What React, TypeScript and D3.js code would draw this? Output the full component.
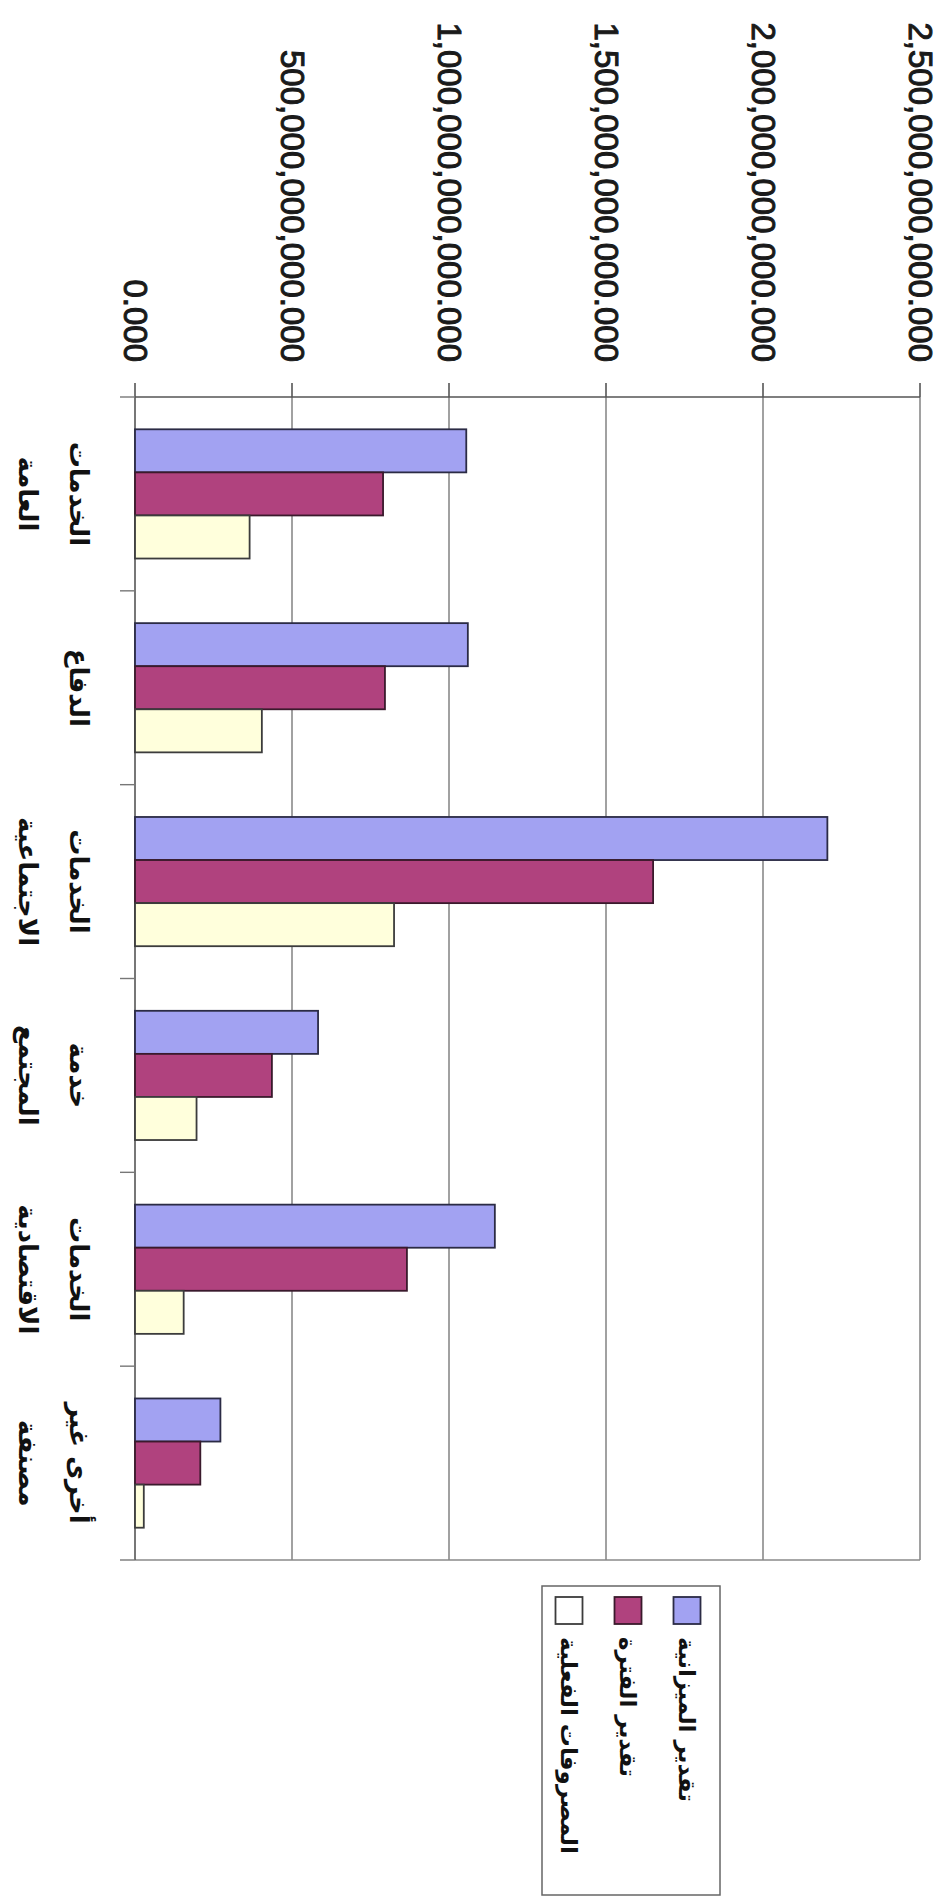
import React from 'react';
import * as d3 from 'd3';

// Category labels (each entry = lines of the label)
const categories: string[][] = [
  ['الخدمات', 'العامة'],
  ['الدفاع'],
  ['الخدمات', 'الاجتماعية'],
  ['خدمة', 'المجتمع'],
  ['الخدمات', 'الاقتصادية'],
  ['أخرى غير', 'مصنفة'],
];
const seriesNames = ['تقدير الميزانية', 'تقدير الفترة', 'المصروفات الفعلية'];
const budgetEstimate = [1055e9, 1060e9, 2205e9, 583e9, 1146e9, 272e9];
const periodEstimate = [790e9, 796e9, 1650e9, 436e9, 866e9, 208e9];
const actualSpending = [365e9, 404e9, 825e9, 196e9, 155e9, 28e9];
const valueTicks = [0, 500e9, 1000e9, 1500e9, 2000e9, 2500e9];

const seriesFill = ['#a2a2f2', '#b0427e', '#ffffdc'];
const seriesStroke = ['#2b2b45', '#3a1a2c', '#3c3c3c'];

export default function App() {
  const seriesValues = [budgetEstimate, periodEstimate, actualSpending];
  const catKeys = categories.map((_, i) => String(i));
  const serKeys = seriesNames.map((_, i) => String(i));

  // Drawn in the chart's own (unrotated) frame, then rotated 90° clockwise.
  const plotLeft = 397;
  const plotRight = 1560;
  const plotTop = 30;
  const plotBottom = 815;

  const x0 = d3.scaleBand<string>().domain(catKeys).range([plotLeft, plotRight]);
  const x1 = d3
    .scaleBand<string>()
    .domain(serKeys)
    .range([0, x0.bandwidth()])
    .paddingInner(0)
    .paddingOuter(0.75);
  const y = d3.scaleLinear().domain([0, 2500e9]).range([plotBottom, plotTop]);
  const fmt = d3.format(',.3f');

  const legendX = 1586;
  const legendY = 230;
  const legendW = 309;
  const legendH = 178;

  const numFont = "'Liberation Sans', Arial, sans-serif";
  const arFont = "'DejaVu Sans', sans-serif";

  const boundaries = [...catKeys.map((k) => x0(k) as number), plotRight];

  return (
    <svg
      width={950}
      height={1903}
      style={{ position: 'absolute', left: 0, top: 0, background: '#fff' }}
    >
      <rect x={0} y={0} width={950} height={1903} fill="#fff" />
      <g transform="translate(950,0) rotate(90)">
        {/* gridlines */}
        {valueTicks.slice(1).map((t) => (
          <line
            key={'g' + t}
            x1={plotLeft}
            x2={plotRight}
            y1={y(t)}
            y2={y(t)}
            stroke="#8a8a8a"
            strokeWidth={1.6}
          />
        ))}
        {/* plot border right (original) */}
        <line x1={plotRight} x2={plotRight} y1={plotTop} y2={plotBottom} stroke="#8a8a8a" strokeWidth={1.6} />
        {/* value axis */}
        <line x1={plotLeft} x2={plotLeft} y1={plotTop} y2={plotBottom} stroke="#555" strokeWidth={1.6} />
        {valueTicks.map((t) => (
          <line key={'vt' + t} x1={plotLeft - 14} x2={plotLeft} y1={y(t)} y2={y(t)} stroke="#555" strokeWidth={1.6} />
        ))}
        {valueTicks.map((t) => (
          <text
            key={'vl' + t}
            x={plotLeft - 35}
            y={y(t)}
            textAnchor="end"
            dominantBaseline="central"
            fontFamily={numFont}
            fontSize={33}
            fill="#1a1a1a"
            stroke="#1a1a1a"
            strokeWidth={1}
          >
            {fmt(t)}
          </text>
        ))}
        {/* category axis */}
        <line x1={plotLeft} x2={plotRight} y1={plotBottom} y2={plotBottom} stroke="#555" strokeWidth={1.6} />
        {boundaries.map((b, i) => (
          <line key={'ct' + i} x1={b} x2={b} y1={plotBottom} y2={plotBottom + 15} stroke="#777" strokeWidth={1.4} />
        ))}
        {/* bars */}
        {catKeys.map((ck, ci) =>
          serKeys.map((sk, si) => {
            const v = seriesValues[si][ci];
            const bx = (x0(ck) as number) + (x1(sk) as number);
            return (
              <rect
                key={ck + '-' + sk}
                x={bx}
                y={y(v)}
                width={x1.bandwidth()}
                height={plotBottom - y(v)}
                fill={seriesFill[si]}
                stroke={seriesStroke[si]}
                strokeWidth={1.8}
              />
            );
          })
        )}
        {/* category labels */}
        {categories.map((lines, ci) => {
          const cx = (x0(String(ci)) as number) + x0.bandwidth() / 2;
          return lines.map((ln, li) => (
            <text
              key={'cl' + ci + '-' + li}
              x={cx}
              y={plotBottom + 56 + li * 51}
              textAnchor="middle"
              dominantBaseline="central"
              fontFamily={arFont}
              fontWeight="bold"
              fontSize={26}
              fill="#111"
            >
              {ln}
            </text>
          ));
        })}
        {/* legend */}
        <rect x={legendX} y={legendY} width={legendW} height={legendH} fill="#fff" stroke="#666" strokeWidth={1.5} />
        {seriesNames.map((name, si) => {
          const ry = legendY + 33 + si * 59;
          return (
            <g key={'lg' + si}>
              <rect
                x={legendX + 11}
                y={ry - 13.5}
                width={27}
                height={27}
                fill={si === 2 ? '#ffffff' : seriesFill[si]}
                stroke={seriesStroke[si]}
                strokeWidth={1.8}
              />
              <text
                x={legendX + 51}
                y={ry}
                textAnchor="start"
                dominantBaseline="central"
                fontFamily={arFont}
                fontWeight="bold"
                fontSize={23}
                fill="#111"
              >
                {name}
              </text>
            </g>
          );
        })}
      </g>
    </svg>
  );
}
